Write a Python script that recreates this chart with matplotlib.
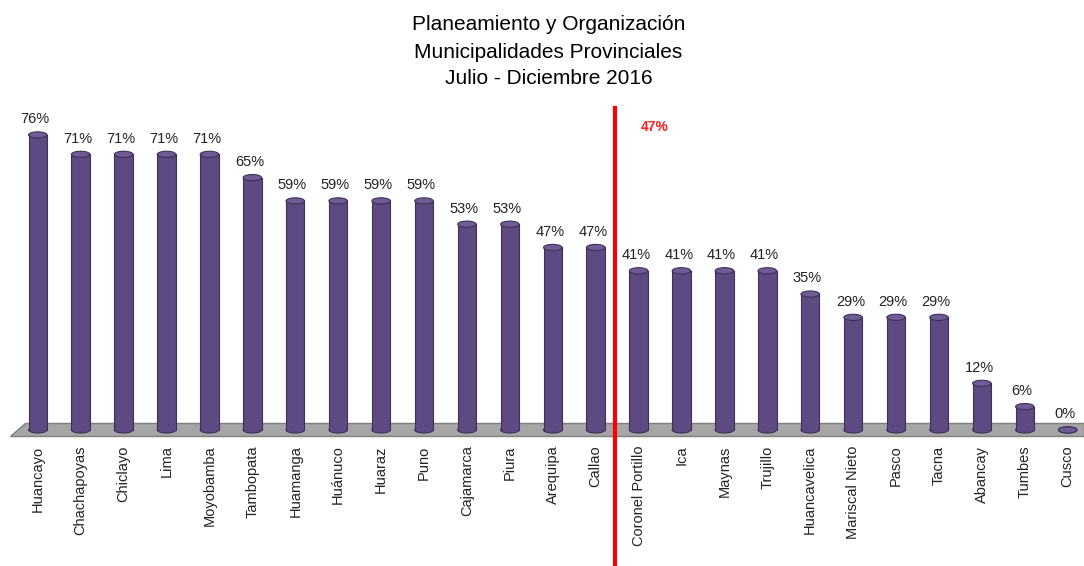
import matplotlib.pyplot as plt
from matplotlib.patches import Ellipse, Polygon

plt.rcParams['font.family'] = ['Liberation Sans', 'DejaVu Sans']

municipios = ['Huancayo', 'Chachapoyas', 'Chiclayo', 'Lima', 'Moyobamba', 'Tambopata',
              'Huamanga', 'Huánuco', 'Huaraz', 'Puno', 'Cajamarca', 'Piura', 'Arequipa',
              'Callao', 'Coronel Portillo', 'Ica', 'Maynas', 'Trujillo', 'Huancavelica',
              'Mariscal Nieto', 'Pasco', 'Tacna', 'Abancay', 'Tumbes', 'Cusco']
porcentaje = [76, 71, 71, 71, 71, 65, 59, 59, 59, 59, 53, 53, 47,
              47, 41, 41, 41, 41, 35, 29, 29, 29, 12, 6, 0]
promedio = 47

bar_color = '#5E4A82'
edge_color = '#3E3058'
cap_color = '#6F5C95'

fig = plt.figure(figsize=(10.84, 5.66), dpi=100)
ax = fig.add_axes([0.009, 1 - 440 / 566, 0.991, 340 / 566])
ax.set_xlim(-0.653, 24.38)
ax.set_ylim(-2.6, 85)

x = range(len(municipios))
bw = 0.43
cap_h = 1.6

# floor
ax.add_patch(Polygon([(-0.653, -1.5), (24.38, -1.5), (24.38, 1.8), (-0.3, 1.8)],
                     closed=True, facecolor='#A6A6A6', edgecolor='#7F7F7F', lw=1, zorder=1))

for xi, v in zip(x, porcentaje):
    ax.add_patch(Ellipse((xi, 0), bw, cap_h, facecolor=bar_color, edgecolor=edge_color,
                         lw=0.8, zorder=2))
    if v > 0:
        ax.bar(xi, v, width=bw, color=bar_color, edgecolor='none', zorder=2)
        ax.plot([xi - bw / 2, xi - bw / 2], [0, v], color=edge_color, lw=0.8, zorder=3)
        ax.plot([xi + bw / 2, xi + bw / 2], [0, v], color=edge_color, lw=0.8, zorder=3)
    ax.add_patch(Ellipse((xi, v), bw, cap_h, facecolor=cap_color, edgecolor=edge_color,
                         lw=0.8, zorder=4))
    ax.annotate(f'{v}%', (xi, v + cap_h / 2), xytext=(-2, 4), textcoords='offset points',
                ha='center', va='bottom', fontsize=10.5, color='#222222')

# average line
ax.axvline(13.45, ymin=-0.37, ymax=0.976, color='#FF0000', lw=3, clip_on=False, zorder=5)
ax.text(14.38, 78, f'{promedio}%', color='#FF2020', fontsize=10, fontweight='bold',
        ha='center', va='center')

ax.set_xticks(list(x))
ax.set_xticklabels(municipios, rotation=90, fontsize=10.5, va='top', ha='center',
                   color='#222222')
ax.tick_params(axis='x', length=0, pad=4)
ax.set_yticks([])
for s in ax.spines.values():
    s.set_visible(False)

fig.text(0.506, 1 - 25 / 566, 'Planeamiento y Organización', ha='center', va='center', fontsize=15)
fig.text(0.506, 1 - 52 / 566, 'Municipalidades Provinciales', ha='center', va='center', fontsize=15)
fig.text(0.506, 1 - 78 / 566, 'Julio - Diciembre 2016', ha='center', va='center', fontsize=15)

fig.savefig('out.png', dpi=100)
